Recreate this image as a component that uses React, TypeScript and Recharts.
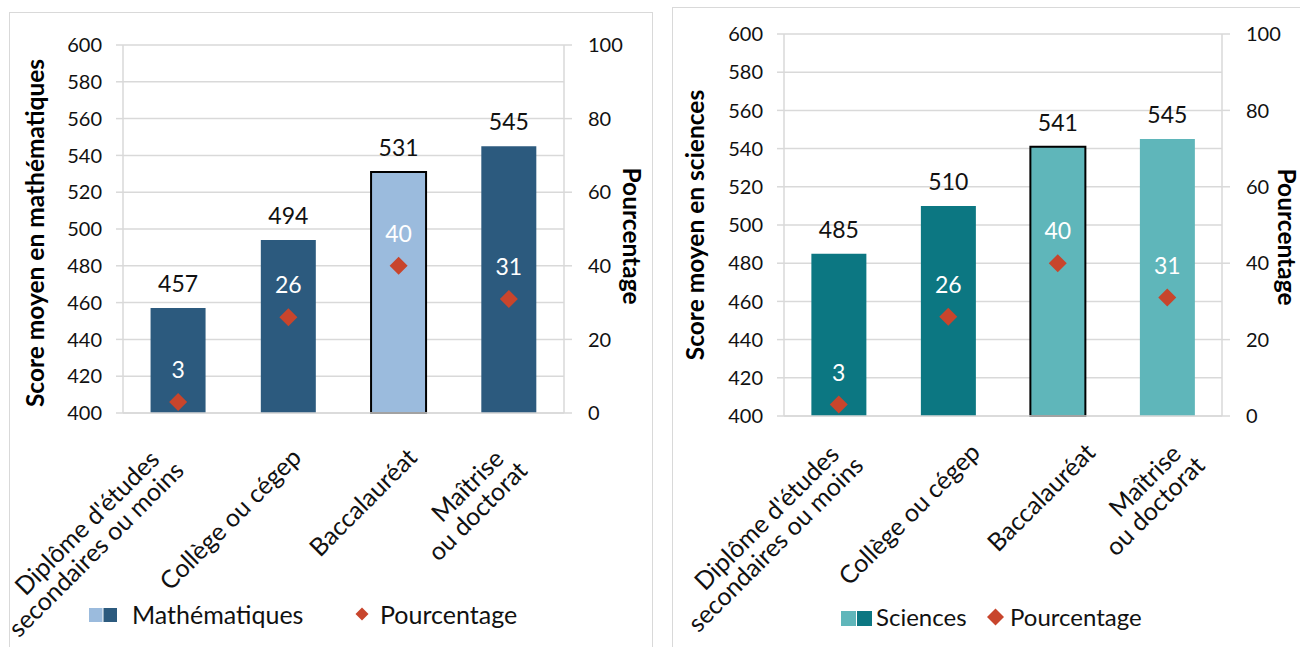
import React from 'react';
import { ComposedChart, Bar, Scatter, XAxis, YAxis, CartesianGrid, Cell, LabelList } from 'recharts';

// categories on the x axis, "\n" splits a label in two lines
const categories = ["Diplôme d'études\nsecondaires ou moins", 'Collège ou cégep', 'Baccalauréat', 'Maîtrise\nou doctorat'];
const mathScores = [457, 494, 531, 545];
const scienceScores = [485, 510, 541, 545];
const percentages = [3, 26, 40, 31];
const scoreTicks = [400, 420, 440, 460, 480, 500, 520, 540, 560, 580, 600];
const pctTicks = [0, 20, 40, 60, 80, 100];

const FONT = 'Lato, "Open Sans", sans-serif';
const GRID = '#d9d9d9';
const RED = '#C8452C';

let ctx: CanvasRenderingContext2D | null = null;
const textWidth = (s: string, font: string) => {
  if (!ctx && typeof document !== 'undefined') ctx = document.createElement('canvas').getContext('2d');
  if (!ctx) return s.length * 11;
  ctx.font = font;
  return ctx.measureText(s).width;
};

// rotated labels: the end of the last line sits just under the tick, earlier lines stack above it
const CategoryTick = (props: any) => {
  const { x, y, payload, endX, endY } = props;
  const lines = String(payload.value).split('\n');
  const fs = 25;
  const lh = 25;
  const n = lines.length;
  const widths = lines.map((l) => textWidth(l, `${fs}px Lato`));
  const w = Math.max(...widths);
  const ox = x + endX + 5 - 0.15 * Math.max(0, w - 150);
  const oy = y + endY + 13 * (n - 1) + 5;
  return (
    <g transform={`translate(${ox},${oy}) rotate(-45)`}>
      {lines.map((l, i) => (
        <text key={i} x={-(w - widths[i]) * 0.22} y={-(n - 1 - i) * lh} textAnchor="end" dominantBaseline="central"
          fontSize={fs} fontFamily={FONT} fill="#111">{l}</text>
      ))}
    </g>
  );
};

const box = (p: any) => p.viewBox && p.viewBox.width !== undefined ? p.viewBox : p;

const ValueLabel = (p: any) => {
  const b = box(p);
  return (
    <text x={b.x + b.width / 2} y={b.y - 25} textAnchor="middle" dominantBaseline="central" fontSize={23} fontFamily={FONT} fill="#111">
      {p.value}
    </text>
  );
};

const PctLabel = (p: any) => {
  const b = box(p);
  return (
    <text x={b.x + b.width / 2} y={b.y + b.height / 2 - 33} textAnchor="middle" dominantBaseline="central" fontSize={23} fontFamily={FONT} fill="#fff">
      {p.value}
    </text>
  );
};

const Diamond = (p: any) => {
  const r = 9;
  return <polygon points={`${p.cx},${p.cy - r} ${p.cx + r},${p.cy} ${p.cx},${p.cy + r} ${p.cx - r},${p.cy}`} fill={RED} />;
};

function Panel(props: any) {
  const c = props.cfg;
  const data = categories.map((cat, i) => ({ cat, score: c.scores[i], pct: percentages[i] }));
  const chartH = 647;
  return (
    <div style={{ position: 'absolute', left: c.left, top: 0, width: c.width, height: chartH }}>
      <ComposedChart width={c.width} height={chartH} data={data} barCategoryGap="25%"
        margin={{ top: c.plotTop, right: 0, bottom: 0, left: 0 }}>
        <CartesianGrid yAxisId="score" vertical={false} stroke={GRID} strokeWidth={1.5} />
        <XAxis dataKey="cat" interval={0} height={chartH - c.plotBottom} tickLine={false} tickSize={0} tickMargin={0}
          axisLine={{ stroke: GRID, strokeWidth: 1.5 }}
          tick={(t: any) => <CategoryTick {...t} endX={c.tickEnd[0]} endY={c.tickEnd[1]} />} />
        <YAxis yAxisId="score" domain={[400, 600]} ticks={scoreTicks} width={c.leftAxisW} tickSize={7} tickMargin={14}
          tickLine={{ stroke: GRID, strokeWidth: 1.5 }} axisLine={{ stroke: GRID, strokeWidth: 1.5 }}
          tick={{ fill: '#111', fontSize: 20, fontFamily: FONT }}
          label={() => (
            <text x={c.leftTitle[0]} y={c.leftTitle[1]} transform={`rotate(-90 ${c.leftTitle[0]} ${c.leftTitle[1]})`}
              textAnchor="middle" dominantBaseline="central" fontSize={24.5} fontWeight="bold" fontFamily={FONT} fill="#000">
              {c.title}
            </text>
          )} />
        <YAxis yAxisId="pct" orientation="right" domain={[0, 100]} ticks={pctTicks} width={c.rightAxisW} tickSize={8} tickMargin={16}
          tickLine={{ stroke: GRID, strokeWidth: 1.5 }} axisLine={{ stroke: GRID, strokeWidth: 1.5 }}
          tick={{ fill: '#111', fontSize: 20, fontFamily: FONT }}
          label={() => (
            <text x={c.rightTitle[0]} y={c.rightTitle[1]} transform={`rotate(90 ${c.rightTitle[0]} ${c.rightTitle[1]})`}
              textAnchor="middle" dominantBaseline="central" fontSize={24.5} fontWeight="bold" fontFamily={FONT} fill="#000">
              Pourcentage
            </text>
          )} />
        <Bar yAxisId="score" dataKey="score" isAnimationActive={false}>
          {data.map((d, i) => (
            <Cell key={d.cat} fill={c.fills[i]} stroke={c.outlined[i] ? '#000' : 'none'} strokeWidth={2} />
          ))}
          <LabelList dataKey="score" content={ValueLabel} />
        </Bar>
        <Scatter yAxisId="pct" dataKey="pct" fill={RED} shape={Diamond} isAnimationActive={false}>
          <LabelList dataKey="pct" content={PctLabel} />
        </Scatter>
      </ComposedChart>
    </div>
  );
}

function LegendRow(props: any) {
  const l = props.cfg;
  return (
    <svg style={{ position: 'absolute', left: 0, top: 590 }} width={1300} height={57}>
      <rect x={l.sw[0]} y={l.sw[2] - 590} width={l.sw[1]} height={l.sw[3]} fill={l.light} />
      <rect x={l.sw[0] + l.sw[1] + 1} y={l.sw[2] - 590} width={l.sw[1]} height={l.sw[3]} fill={l.dark} />
      <text x={l.nameX} y={l.textY - 590} dominantBaseline="central" fontSize={l.fs} fontFamily={FONT} fill="#111">{l.name}</text>
      <polygon fill={RED} points={`${l.dia[0]},${l.dia[1] - 590 - l.dia[2]} ${l.dia[0] + l.dia[2]},${l.dia[1] - 590} ${l.dia[0]},${l.dia[1] - 590 + l.dia[2]} ${l.dia[0] - l.dia[2]},${l.dia[1] - 590}`} />
      <text x={l.pctX} y={l.textY - 590} dominantBaseline="central" fontSize={l.fs} fontFamily={FONT} fill="#111">Pourcentage</text>
    </svg>
  );
}

const mathCfg = {
  left: 0, width: 660, plotTop: 45, plotBottom: 413, leftAxisW: 123, rightAxisW: 96,
  scores: mathScores, fills: ['#2C5A7E', '#2C5A7E', '#9BBBDD', '#2C5A7E'], outlined: [false, false, true, false],
  title: 'Score moyen en mathématiques', leftTitle: [34, 233], rightTitle: [632, 236], tickEnd: [8, 34],
};
const sciCfg = {
  left: 660, width: 640, plotTop: 34, plotBottom: 416, leftAxisW: 124, rightAxisW: 78,
  scores: scienceScores, fills: ['#0C7782', '#0C7782', '#5FB6BA', '#5FB6BA'], outlined: [false, false, true, false],
  title: 'Score moyen en sciences', leftTitle: [34, 225], rightTitle: [627, 237], tickEnd: [27, 26],
};

export default function App() {
  return (
    <div style={{ position: 'absolute', left: 0, top: 0, width: 1300, height: 647, overflow: 'hidden', background: '#fff' }}>
      <div style={{ position: 'absolute', left: 9, top: 12, width: 642, height: 700, border: `1px solid ${GRID}` }} />
      <div style={{ position: 'absolute', left: 672, top: 7, width: 700, height: 700, border: `1px solid ${GRID}` }} />
      <Panel cfg={mathCfg} />
      <Panel cfg={sciCfg} />
      <LegendRow cfg={{ sw: [89, 13.5, 608, 14], light: '#9BBBDD', dark: '#2C5A7E', name: 'Mathématiques', nameX: 132, textY: 614, dia: [362, 614, 6.5], pctX: 380, fs: 25 }} />
      <LegendRow cfg={{ sw: [841, 15, 611, 15], light: '#5FB6BA', dark: '#0C7782', name: 'Sciences', nameX: 876, textY: 616, dia: [995.5, 617, 8.5], pctX: 1010, fs: 24 }} />
    </div>
  );
}
